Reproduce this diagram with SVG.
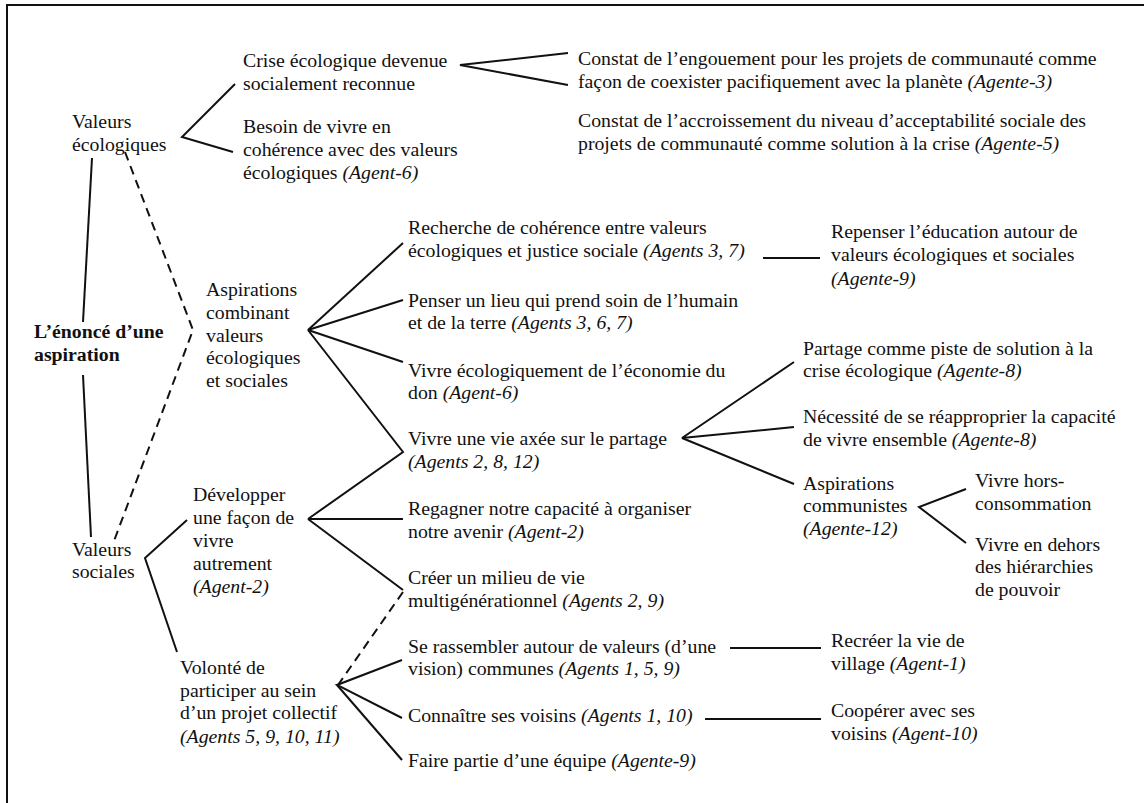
<svg xmlns="http://www.w3.org/2000/svg" width="1144" height="803" viewBox="0 0 1144 803">
  <style>
    text { font-family: "Liberation Serif", "Times New Roman", serif; font-size: 19.8px; fill: #111; }
    .i { font-style: italic; }
    .b { font-weight: bold; }
    .c { fill: none; stroke: #111; stroke-width: 2; stroke-linejoin: miter; }
    .d { fill: none; stroke: #111; stroke-width: 2; stroke-dasharray: 9 6; }
    .frame { fill: #fff; stroke: #111; stroke-width: 2; }
  </style>

  <rect class="frame" x="7" y="5" width="1150" height="810"/>

  <!-- connectors -->
  <g id="connectors">
    <!-- root trunk -->
    <line class="c" x1="92" y1="158" x2="83" y2="322"/>
    <line class="c" x1="83" y1="375" x2="91" y2="537"/>
    <!-- link between both value families via combined aspirations -->
    <polyline class="d" points="125,152 193,330 114,541"/>
    <!-- Valeurs écologiques -->
    <polyline class="c" points="235,84 182,137 233,152"/>
    <polyline class="c" points="568,53 460,65 568,85"/>
    <!-- Aspirations combinant -->
    <line class="c" x1="308" y1="330" x2="403" y2="243"/>
    <line class="c" x1="308" y1="330" x2="403" y2="300"/>
    <line class="c" x1="308" y1="330" x2="403" y2="362"/>
    <polyline class="c" points="308,330 403,452 308,519"/>
    <line class="c" x1="763" y1="258" x2="820" y2="258"/>
    <!-- Valeurs sociales -->
    <polyline class="c" points="187,520 145,558 177,652"/>
    <!-- Développer -->
    <line class="c" x1="308" y1="519" x2="403" y2="519"/>
    <polyline class="c" points="308,519 403,590"/>
    <line class="d" x1="403" y1="592" x2="338" y2="685"/>
    <!-- Vivre une vie axée sur le partage -->
    <polyline class="c" points="794,362 682,438 794,427"/>
    <line class="c" x1="682" y1="438" x2="794" y2="484"/>
    <polyline class="c" points="966,489 919,507 966,543"/>
    <!-- Volonté de participer -->
    <polyline class="c" points="402,660 337,685 402,718"/>
    <line class="c" x1="337" y1="685" x2="402" y2="760"/>
    <line class="c" x1="730" y1="648" x2="821" y2="648"/>
    <line class="c" x1="705" y1="719" x2="821" y2="719"/>
  </g>

  <g id="root">
    <text class="b" x="34" y="338">L’énoncé d’une</text>
    <text class="b" x="34" y="361">aspiration</text>
  </g>

  <g id="valeurs-ecologiques">
    <text x="72" y="128">Valeurs</text>
    <text x="72" y="151">écologiques</text>
  </g>

  <g id="crise-ecologique">
    <text x="243" y="67">Crise écologique devenue</text>
    <text x="243" y="90">socialement reconnue</text>
  </g>

  <g id="besoin-coherence">
    <text x="243" y="133">Besoin de vivre en</text>
    <text x="243" y="156">cohérence avec des valeurs</text>
    <text x="243" y="179">écologiques <tspan class="i">(Agent-6)</tspan></text>
  </g>

  <g id="constat-engouement">
    <text x="578" y="65">Constat de l’engouement pour les projets de communauté comme</text>
    <text x="578" y="88">façon de coexister pacifiquement avec la planète <tspan class="i">(Agente-3)</tspan></text>
  </g>

  <g id="constat-acceptabilite">
    <text x="578" y="127">Constat de l’accroissement du niveau d’acceptabilité sociale des</text>
    <text x="578" y="150">projets de communauté comme solution à la crise <tspan class="i">(Agente-5)</tspan></text>
  </g>

  <g id="aspirations-combinant">
    <text x="206" y="296">Aspirations</text>
    <text x="206" y="319">combinant</text>
    <text x="206" y="342">valeurs</text>
    <text x="206" y="364">écologiques</text>
    <text x="206" y="387">et sociales</text>
  </g>

  <g id="recherche-coherence">
    <text x="408" y="234">Recherche de cohérence entre valeurs</text>
    <text x="408" y="257">écologiques et justice sociale <tspan class="i">(Agents 3, 7)</tspan></text>
  </g>

  <g id="repenser-education">
    <text x="831" y="238">Repenser l’éducation autour de</text>
    <text x="831" y="261">valeurs écologiques et sociales</text>
    <text x="831" y="285" class="i">(Agente-9)</text>
  </g>

  <g id="penser-lieu">
    <text x="408" y="307">Penser un lieu qui prend soin de l’humain</text>
    <text x="408" y="329">et de la terre <tspan class="i">(Agents 3, 6, 7)</tspan></text>
  </g>

  <g id="economie-don">
    <text x="408" y="377">Vivre écologiquement de l’économie du</text>
    <text x="408" y="399">don <tspan class="i">(Agent-6)</tspan></text>
  </g>

  <g id="vie-partage">
    <text x="408" y="445">Vivre une vie axée sur le partage</text>
    <text x="408" y="468" class="i">(Agents 2, 8, 12)</text>
  </g>

  <g id="partage-solution">
    <text x="803" y="355">Partage comme piste de solution à la</text>
    <text x="803" y="377">crise écologique <tspan class="i">(Agente-8)</tspan></text>
  </g>

  <g id="vivre-ensemble">
    <text x="803" y="423">Nécessité de se réapproprier la capacité</text>
    <text x="803" y="446">de vivre ensemble <tspan class="i">(Agente-8)</tspan></text>
  </g>

  <g id="aspirations-communistes">
    <text x="803" y="490">Aspirations</text>
    <text x="803" y="512">communistes</text>
    <text x="803" y="535" class="i">(Agente-12)</text>
  </g>

  <g id="hors-consommation">
    <text x="975" y="487">Vivre hors-</text>
    <text x="975" y="510">consommation</text>
  </g>

  <g id="hors-hierarchies">
    <text x="975" y="551">Vivre en dehors</text>
    <text x="975" y="573">des hiérarchies</text>
    <text x="975" y="596">de pouvoir</text>
  </g>

  <g id="developper">
    <text x="193" y="501">Développer</text>
    <text x="193" y="524">une façon de</text>
    <text x="193" y="547">vivre</text>
    <text x="193" y="570">autrement</text>
    <text x="193" y="593" class="i">(Agent-2)</text>
  </g>

  <g id="valeurs-sociales">
    <text x="72" y="556">Valeurs</text>
    <text x="72" y="578">sociales</text>
  </g>

  <g id="regagner-capacite">
    <text x="408" y="515">Regagner notre capacité à organiser</text>
    <text x="408" y="538">notre avenir <tspan class="i">(Agent-2)</tspan></text>
  </g>

  <g id="milieu-multigenerationnel">
    <text x="408" y="584">Créer un milieu de vie</text>
    <text x="408" y="607">multigénérationnel <tspan class="i">(Agents 2, 9)</tspan></text>
  </g>

  <g id="volonte-participer">
    <text x="180" y="674">Volonté de</text>
    <text x="180" y="697">participer au sein</text>
    <text x="180" y="719">d’un projet collectif</text>
    <text x="180" y="743" class="i">(Agents 5, 9, 10, 11)</text>
  </g>

  <g id="se-rassembler">
    <text x="408" y="653">Se rassembler autour de valeurs (d’une</text>
    <text x="408" y="675">vision) communes <tspan class="i">(Agents 1, 5, 9)</tspan></text>
  </g>

  <g id="vie-village">
    <text x="831" y="647">Recréer la vie de</text>
    <text x="831" y="670">village <tspan class="i">(Agent-1)</tspan></text>
  </g>

  <g id="connaitre-voisins">
    <text x="408" y="722">Connaître ses voisins <tspan class="i">(Agents 1, 10)</tspan></text>
  </g>

  <g id="cooperer-voisins">
    <text x="831" y="717">Coopérer avec ses</text>
    <text x="831" y="740">voisins <tspan class="i">(Agent-10)</tspan></text>
  </g>

  <g id="equipe">
    <text x="408" y="767">Faire partie d’une équipe <tspan class="i">(Agente-9)</tspan></text>
  </g>
</svg>
